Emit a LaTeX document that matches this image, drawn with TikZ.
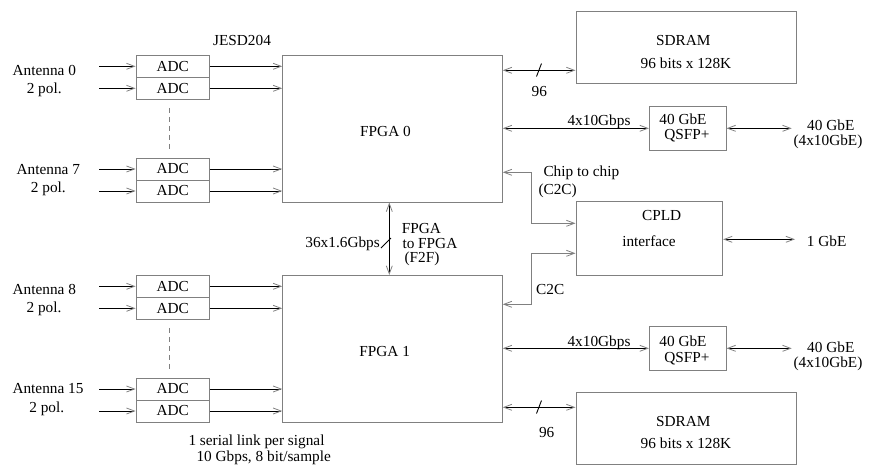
\documentclass[tikz,border=0pt]{standalone}
\usepackage{fontspec}
\setmainfont{Liberation Serif}
\usetikzlibrary{arrows.meta}
\definecolor{boxgray}{gray}{0.5}
\begin{document}
\begin{tikzpicture}[x=1pt,y=-1pt,
  every node/.style={font=\fontsize{15.3}{18.3}\selectfont, inner sep=0pt},
  barb/.tip={Straight Barb[length=8pt,width=6pt,color=boxgray,line width=0.8pt]},
  box/.style={draw=boxgray, line width=0.9pt, inner sep=0pt},
  adcbox/.style={box, minimum width=73.3pt, minimum height=22pt},
  txt/.style={anchor=base},
  conn/.style={line width=0.9pt},
  arr/.style={conn, -barb},
  darr/.style={conn, barb-barb},
  gdarr/.style={line width=0.9pt, draw=boxgray, barb-barb},
  sep/.style={draw=boxgray, line width=0.9pt, dash pattern=on 5pt off 4pt}
]
\useasboundingbox (0,0) rectangle (870,464);
\clip (0,0) rectangle (870,464);

% ADC boxes
\node[adcbox] (adc0a) at (172.7,66.3) {ADC};
\node[adcbox] (adc0b) at (172.7,88.3) {ADC};
\node[adcbox] (adc7a) at (172.7,169) {ADC};
\node[adcbox] (adc7b) at (172.7,191) {ADC};
\node[adcbox] (adc8a) at (172.7,286.3) {ADC};
\node[adcbox] (adc8b) at (172.7,308.3) {ADC};
\node[adcbox] (adc15a) at (172.7,389) {ADC};
\node[adcbox] (adc15b) at (172.7,411) {ADC};

% dashed separators
\draw[sep] (adc0b.south) ++(-3.4,8) coordinate (d0s) -- ++(0,44);
\draw[sep] (adc8b.south) ++(-3.4,8) coordinate (d8s) -- ++(0,44);

% big boxes
\node[box, minimum width=219.6pt, minimum height=146.7pt] (fpga0) at (392.5,128.7) {};
\node[box, minimum width=219.6pt, minimum height=146.7pt] (fpga1) at (392.5,348.7) {};
\node[box, minimum width=220.7pt, minimum height=71.6pt] (sdram0) at (686.3,47.5) {};
\node[box, minimum width=220.7pt, minimum height=71.6pt] (sdram1) at (686.3,428.5) {};
\node[box, minimum width=76.7pt, minimum height=43.3pt] (qsfp0) at (687.7,128.3) {};
\node[box, minimum width=76.7pt, minimum height=43.3pt] (qsfp1) at (687.7,348.3) {};
\node[box, minimum width=146.7pt, minimum height=73.3pt] (cpld) at (649.3,238.3) {};

% box texts
\node[txt] (tf0) at (385.5,136.7) {FPGA 0};
\node[txt] (tf1) at (384.7,356.7) {FPGA 1};
\node[txt] (ts0a) at (683.3,45) {SDRAM};
\node[txt] (ts0b) at (686,68.3) {96 bits x 128K};
\node[txt] (ts1a) at (683.3,426.7) {SDRAM};
\node[txt] (ts1b) at (686,448.3) {96 bits x 128K};
\node[txt] (tq0a) at (683,124) {40 GbE};
\node[txt] (tq0b) at (687,139.5) {QSFP+};
\node[txt] (tq1a) at (683,346.7) {40 GbE};
\node[txt] (tq1b) at (687,362) {QSFP+};
\node[txt] (tc1) at (661.7,220) {CPLD};
\node[txt] (tc2) at (649,246) {interface};

% antenna labels
\node[txt] (a0a) at (44.3,75) {Antenna 0};
\node[txt] (a0b) at (44.2,93.3) {2 pol.};
\node[txt] (a7a) at (48.3,174) {Antenna 7};
\node[txt] (a7b) at (48.3,192.7) {2 pol.};
\node[txt] (a8a) at (44.3,294.8) {Antenna 8};
\node[txt] (a8b) at (44,312.7) {2 pol.};
\node[txt] (a15a) at (48,393.8) {Antenna 15};
\node[txt] (a15b) at (46.7,412.7) {2 pol.};

% input coordinates
\coordinate (i0a) at (99,66.3);
\coordinate (i0b) at (99,88.3);
\coordinate (i7a) at (99,169);
\coordinate (i7b) at (99,191);
\coordinate (i8a) at (99,286.3);
\coordinate (i8b) at (99,308.3);
\coordinate (i15a) at (99,389);
\coordinate (i15b) at (99,411);

\foreach \n in {0a,0b,7a,7b} {
  \draw[arr] (i\n) -- (adc\n);
  \draw[arr] (adc\n) -- (adc\n -| fpga0.west);
}
\foreach \n in {8a,8b,15a,15b} {
  \draw[arr] (i\n) -- (adc\n);
  \draw[arr] (adc\n) -- (adc\n -| fpga1.west);
}

% other labels
\node[txt] (jesd) at (242,45) {JESD204};
\node[txt] (ser1) at (256.5,445) {1 serial link per signal};
\node[txt] (ser2) at (263.7,461.7) {10 Gbps, 8 bit/sample};

% SDRAM links
\coordinate (sd0y) at (0,70.3);
\coordinate (sd1y) at (0,407.3);
\draw[darr] (fpga0.east |- sd0y) -- (sdram0.west |- sd0y);
\draw[conn] (536.5,76.5) -- (541.5,63.5);
\node[txt] (n96a) at (539.3,96) {96};
\draw[darr] (fpga1.east |- sd1y) -- (sdram1.west |- sd1y);
\draw[conn] (536.5,413.5) -- (541.5,400.5);
\node[txt] (n96b) at (546.7,437.3) {96};

% QSFP links
\coordinate (e0) at (791.7,128.3);
\coordinate (e1) at (791.7,348.3);
\draw[darr] (fpga0.east |- qsfp0) -- (qsfp0.west);
\draw[darr] (qsfp0.east) -- (e0);
\draw[darr] (fpga1.east |- qsfp1) -- (qsfp1.west);
\draw[darr] (qsfp1.east) -- (e1);
\node[txt] (g0) at (599,125) {4x10Gbps};
\node[txt] (g1) at (599,346) {4x10Gbps};
\node[txt] (o0a) at (830.8,130.5) {40 GbE};
\node[txt] (o0b) at (828,145.5) {(4x10GbE)};
\node[txt] (o1a) at (830.8,352.3) {40 GbE};
\node[txt] (o1b) at (828,367) {(4x10GbE)};

% F2F
\coordinate (f2fx) at (389.3,0);
\draw[darr] (fpga0.south -| f2fx) -- (fpga1.north -| f2fx);
\draw[conn] (381,248) -- (391,238);
\node[anchor=base east] (bw) at (380,247) {36x1.6Gbps};
\node[anchor=base west] (ff1) at (401.7,233.3) {FPGA};
\node[anchor=base west] (ff2) at (402.3,248.3) {to FPGA};
\node[anchor=base west] (ff3) at (404.3,262) {(F2F)};

% C2C
\coordinate (c0y) at (0,172.3);
\coordinate (c1y) at (0,223.3);
\coordinate (c2y) at (0,253.3);
\coordinate (c3y) at (0,304.3);
\draw[gdarr] (fpga0.east |- c0y) -| (531.7,200) |- (cpld.west |- c1y);
\draw[gdarr] (cpld.west |- c2y) -| (531.7,280) |- (fpga1.east |- c3y);
\node[anchor=base west] (cc1) at (543.3,176.7) {Chip to chip};
\node[anchor=base west] (cc2) at (538.3,194) {(C2C)};
\node[txt] (cc3) at (550.2,294.3) {C2C};

% 1 GbE
\coordinate (e2) at (795,239.3);
\draw[darr] (cpld.east |- e2) -- (e2);
\node[anchor=base west] (gbe) at (806.7,246) {1 GbE};
\end{tikzpicture}
\end{document}
